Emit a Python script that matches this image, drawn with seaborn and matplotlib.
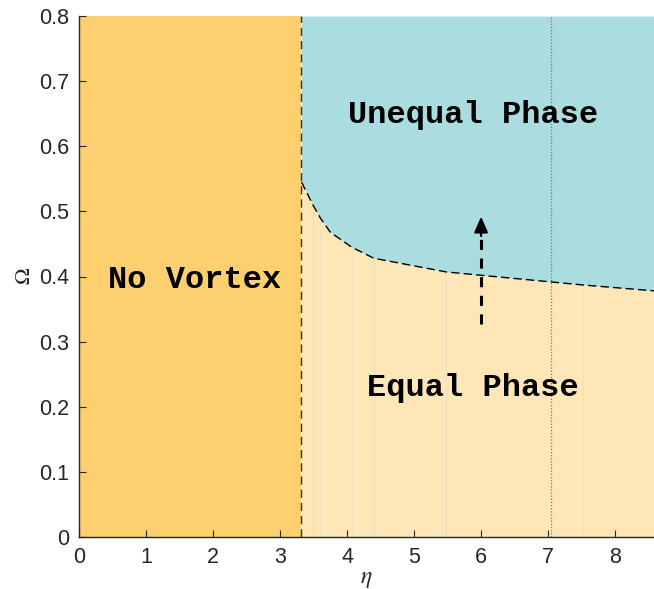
import numpy as np
import pandas as pd
import matplotlib
matplotlib.use("Agg")
import matplotlib.pyplot as plt
import seaborn as sns

# Phase boundary between equal and unequal phases
eta_boundary = [3.32, 3.49, 3.60, 3.75, 4.07, 4.40, 5.48, 7.52, 8.58]
omega_boundary = [0.545, 0.510, 0.490, 0.468, 0.445, 0.428, 0.407, 0.387, 0.378]

eta_vortex = 3.32      # vortex-nucleation threshold
eta_dotted = 7.05      # reference line
arrow_eta = 6.0
arrow_omega = [0.327, 0.492]

region_labels = ["No Vortex", "Unequal Phase", "Equal Phase"]
label_eta = [1.72, 5.88, 5.88]
label_omega = [0.395, 0.648, 0.229]

x_ticks = [0, 1, 2, 3, 4, 5, 6, 7, 8]
y_ticks = [0, 0.1, 0.2, 0.3, 0.4, 0.5, 0.6, 0.7, 0.8]
x_max, y_max = 8.58, 0.8

c_orange = "#fdcf6e"
c_cream = "#fee6b6"
c_teal = "#aadce0"

sns.set_theme(style="ticks")
plt.rcParams["font.family"] = ["Liberation Sans", "DejaVu Sans"]
plt.rcParams["mathtext.fontset"] = "stix"

fig = plt.figure(figsize=(6.54, 5.89), dpi=100)
ax = fig.add_axes([79 / 654, 52 / 589, 1 - 79 / 654, 521 / 589])

df = pd.DataFrame({"eta": eta_boundary, "omega": omega_boundary})

# regions
ax.axvspan(0, eta_vortex, color=c_orange, lw=0, zorder=0)
ax.fill_between(df["eta"], 0, df["omega"], color=c_cream, lw=0, zorder=0)
ax.fill_between(df["eta"], df["omega"], y_max, color=c_teal, lw=0, zorder=0)
# faint seams of the patches
for e, o in zip(eta_boundary[1:-1], omega_boundary[1:-1]):
    if e == 3.75:
        continue
    ax.plot([e, e], [0, o], color="#efe0c0", lw=0.7, zorder=0.5)

# boundary curve
sns.lineplot(data=df, x="eta", y="omega", ax=ax, color="black", lw=1.0,
             linestyle=(0, (6, 3)), zorder=3, sort=False)
ax.axvline(eta_vortex, color="#333333", lw=1.0, linestyle=(0, (6, 3.5)), zorder=3)
ax.axvline(eta_dotted, color="#777777", lw=0.9, linestyle=(0, (1, 1.5)), zorder=2)

# arrow
ax.plot([arrow_eta, arrow_eta], [arrow_omega[0], arrow_omega[1] - 0.03],
        color="black", lw=2.2, linestyle=(0, (3.3, 2.8)), zorder=4)
ax.annotate("", xy=(arrow_eta, arrow_omega[1]), xytext=(arrow_eta, arrow_omega[1] - 0.03),
            arrowprops=dict(arrowstyle="-|>,head_length=0.8,head_width=0.35",
                            color="black", lw=1.5, shrinkA=0, shrinkB=0), zorder=5)

for t, x, y in zip(region_labels, label_eta, label_omega):
    ax.text(x, y, t, ha="center", va="center", fontsize=23,
            family=["Liberation Mono", "DejaVu Sans Mono"], weight="bold", color="black", zorder=6)

ax.set_xlim(0, x_max)
ax.set_ylim(0, y_max)
ax.set_xticks(x_ticks)
ax.set_yticks(y_ticks)
ax.set_xticklabels([str(v) for v in x_ticks])
ax.set_yticklabels(["0"] + [f"{v:.1f}" for v in y_ticks[1:]])
ax.tick_params(direction="in", length=5, width=0.8, labelsize=15.5, colors="#262626",
               top=False, right=False, pad=7)
ax.set_xlabel(r"$\eta$", fontsize=17, labelpad=0)
ax.set_ylabel(r"$\Omega$", fontsize=16, labelpad=3)
for s in ["top", "right"]:
    ax.spines[s].set_visible(False)
for s in ["left", "bottom"]:
    ax.spines[s].set_color("#262626")
    ax.spines[s].set_linewidth(1.0)
    ax.spines[s].set_zorder(7)

fig.savefig("out.png", dpi=100)
